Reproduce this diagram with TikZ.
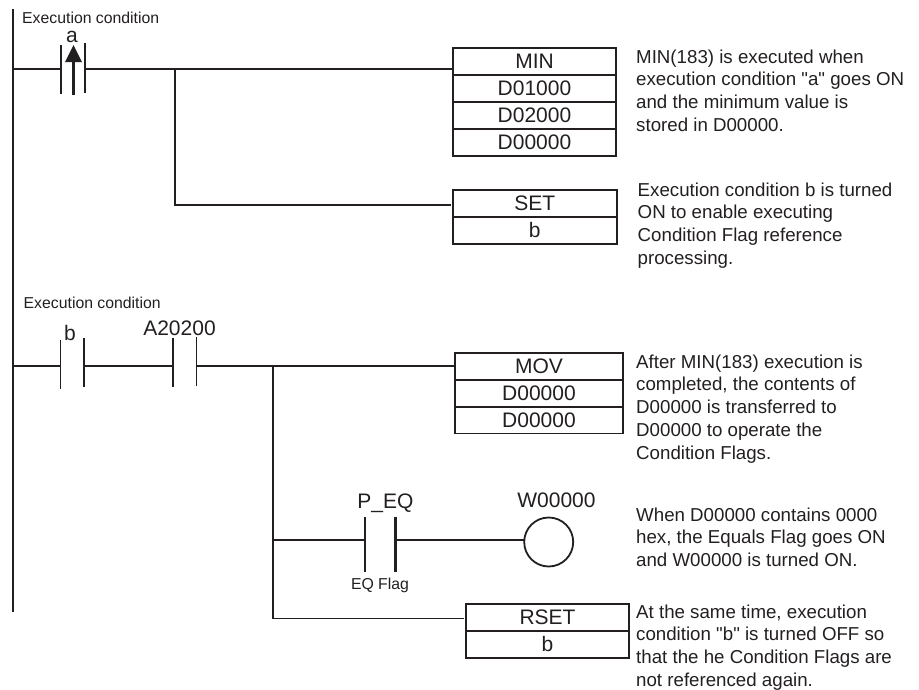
\documentclass[tikz,border=0pt]{standalone}
\usepackage{fontspec}
\usetikzlibrary{positioning}
\setmainfont{Liberation Sans}
\newfontfamily\notefont{Liberation Sans}
\definecolor{inkblack}{HTML}{231F20}
\tikzset{
	wire/.style={line width=1.8pt, inkblack},
	plate/.style={line width=1.5pt, inkblack},
	cellbox/.style={draw=inkblack, line width=1.8pt, outer sep=0pt, minimum width=163pt, minimum height=26.8pt, inner sep=0pt, text=inkblack, font=\fontsize{21}{24}\selectfont},
	tag/.style={text=inkblack, inner sep=0pt, font=\fontsize{21}{24}\selectfont},
	small/.style={text=inkblack, inner sep=0pt, font=\fontsize{15.8}{18}\selectfont},
	note/.style={text=inkblack, inner sep=0pt, anchor=north west, align=left, font=\notefont\fontsize{18.7}{22.7}\selectfont}
}
\begin{document}
\begin{tikzpicture}[x=1pt, y=-1pt]
	\useasboundingbox (0,0) rectangle (919,689);
	% power rail
	\draw[wire] (13,9) -- (13,612);

	\node[small, anchor=west] (cond1) at (22,17.5) {Execution condition};
	\node[small, anchor=west] (cond2) at (23.5,303) {Execution condition};

	% first rung
	\coordinate (railA) at (13,69);
	\coordinate (contactAl) at (61,69);
	\coordinate (contactAr) at (85,69);
	\coordinate (branchA) at (175,69);
	\node[cellbox, minimum height=27pt] (min) at (534.5,61.5) {MIN};
	\node[cellbox, minimum height=27pt, below=0pt of min] (minA) {D01000};
	\node[cellbox, minimum height=27pt, below=0pt of minA] (minB) {D02000};
	\node[cellbox, minimum height=27pt, below=0pt of minB] (minC) {D00000};
	\node[cellbox, minimum width=164pt] (set) at (534.7,203.4) {SET};
	\node[cellbox, minimum width=164pt, below=0pt of set] (setB) {b};
	\draw[plate] (61,45) -- (61,94);
	\draw[plate] (85,43) -- (85,93);
	\draw[line width=3.3pt, inkblack] (73.5,95) -- (73.5,60);
	\fill[inkblack] (73.5,45) -- (82,62) -- (65,62) -- cycle;
	\node[tag] (labA) at (72,37) {a};
	\draw[wire] (railA) -- (contactAl);
	\draw[wire] (contactAr) -- (branchA) -- (min.west |- branchA);
	\draw[wire, shorten >=2pt] (branchA) |- ([yshift=-1.5pt]set.west);

	% second rung
	\coordinate (railB) at (13,366);
	\coordinate (contactBl) at (60.5,366);
	\coordinate (contactBr) at (84,366);
	\coordinate (contactCl) at (173,366);
	\coordinate (contactCr) at (196.5,366);
	\coordinate (branchB) at (273,366);
	\node[cellbox, minimum width=168pt] (mov) at (539,366.4) {MOV};
	\node[cellbox, minimum width=168pt, below=0pt of mov] (movA) {D00000};
	\node[cellbox, minimum width=168pt, below=0pt of movA] (movB) {D00000};
	\draw[plate] (60.5,340) -- (60.5,389);
	\draw[plate] (84,338) -- (84,387);
	\draw[plate] (173,338) -- (173,387);
	\draw[plate] (196.5,337) -- (196.5,386);
	\node[tag] (labB) at (70,333) {b};
	\node[tag] (labC) at (179.5,328) {A20200};
	\draw[wire] (railB) -- (contactBl);
	\draw[wire] (contactBr) -- (contactCl);
	\draw[wire] (contactCr) -- (branchB) -- (mov.west |- branchB);

	% flag rung
	\coordinate (contactDl) at (365,540);
	\coordinate (contactDr) at (395.5,540);
	\coordinate (branchD) at (273,540);
	\node[draw=inkblack, line width=1.8pt, circle, outer sep=0pt, minimum size=49pt, inner sep=0pt] (coil) at (548.7,542) {};
	\draw[line width=2.6pt, inkblack] (365,517) -- (365,572);
	\draw[line width=2.6pt, inkblack] (395.5,517) -- (395.5,572);
	\node[tag] (labD) at (385.5,503) {P\_EQ};
	\node[tag] (labE) at (556.5,500) {W00000};
	\node[small] (labF) at (380,585) {EQ Flag};
	\draw[wire] (branchD) -- (contactDl);
	\draw[wire] (contactDr) -- (coil.west |- contactDr);

	% reset
	\node[cellbox] (rset) at (547.5,617.4) {RSET};
	\node[cellbox, below=0pt of rset] (rsetB) {b};
	\draw[wire, shorten >=2pt] (branchB) |- ([yshift=-1pt]rset.west);

	% notes
	\node[note] (noteA) at (636,49.5) {MIN(183) is executed when\\execution condition "a" goes ON\\and the minimum value is\\stored in D00000.};
	\node[note] (noteB) at (637.5,182.5) {Execution condition b is turned\\ON to enable executing\\Condition Flag reference\\processing.};
	\node[note] (noteC) at (636,354.5) {After MIN(183) execution is\\completed, the contents of\\D00000 is transferred to\\D00000 to operate the\\Condition Flags.};
	\node[note] (noteD) at (636,507.5) {When D00000 contains 0000\\hex, the Equals Flag goes ON\\and W00000 is turned ON.};
	\node[note] (noteE) at (636,604.5) {At the same time, execution\\condition "b" is turned OFF so\\that the he Condition Flags are\\not referenced again.};
\end{tikzpicture}
\end{document}
